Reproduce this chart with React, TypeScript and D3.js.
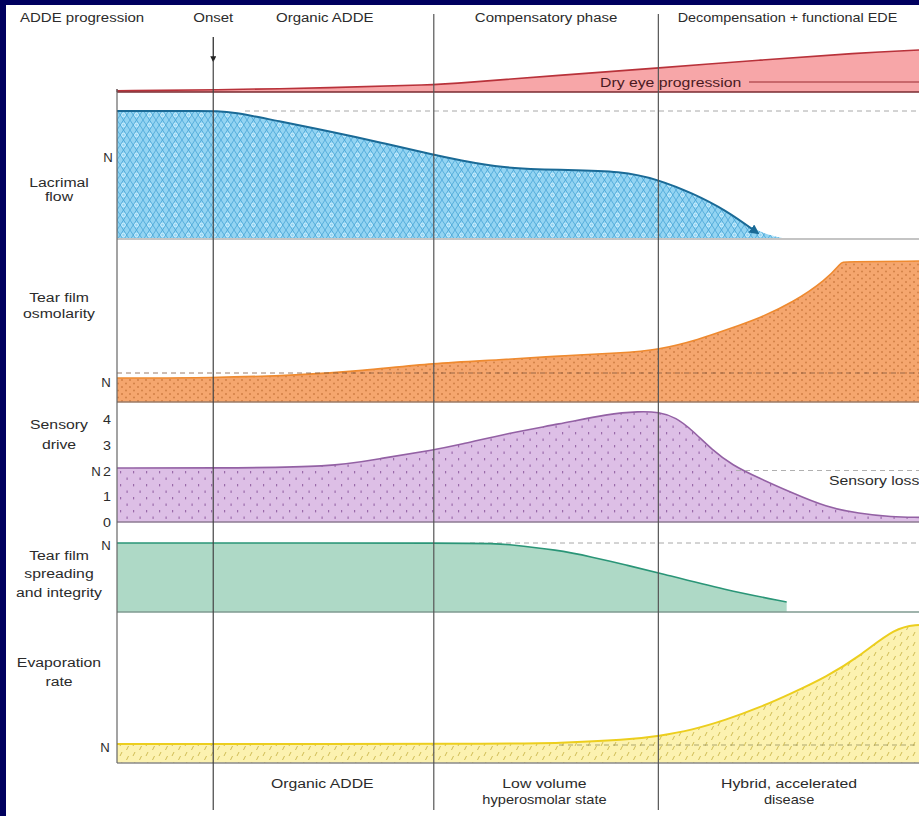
import * as d3 from "d3";

// ---- data (time in % of disease course, values per panel scale) ----
const PHASE_T = [12, 39.5, 67.5];

const TOP_LABELS = ["Onset", "Organic ADDE", "Compensatory phase", "Decompensation + functional EDE"];
const TOP_LABEL_T = [12, 25.9, 53.5, 83.6];
const BOTTOM_LABELS = [["Organic ADDE"], ["Low volume", "hyperosmolar state"], ["Hybrid, accelerated", "disease"]];
const BOTTOM_LABEL_T = [25.6, 53.3, 83.8];

const ROW_LABELS = [["Lacrimal", "flow"], ["Tear film", "osmolarity"], ["Sensory", "drive"], ["Tear film", "spreading", "and integrity"], ["Evaporation", "rate"]];

const DRY_T = [0, 12, 26.9, 39.5, 42.6, 55.1, 67.6, 80, 92.5, 100];
const DRY_V = [0.03, 0.05, 0.1, 0.17, 0.21, 0.4, 0.57, 0.76, 0.93, 1.0];

const LAC_T = [0, 12, 12, 14.5, 20, 26.9, 33.2, 39.5, 42.6, 48, 55.1, 63, 67.6, 71.7, 75.9, 79.7];
const LAC_V = [1, 1, 1, 0.992, 0.921, 0.835, 0.748, 0.654, 0.614, 0.551, 0.535, 0.528, 0.457, 0.354, 0.22, 0.047];
const LAC_TAIL = [82.9, 0];

const OSM_T = [0, 12, 22.8, 30.3, 39.5, 47.8, 55.1, 62.7, 67.5, 72.7, 75.9, 80.2, 84.2, 88.4, 90.4, 90.4, 100];
const OSM_V = [0.83, 0.83, 0.93, 1.07, 1.34, 1.45, 1.59, 1.69, 1.79, 2.17, 2.48, 2.9, 3.42, 4.2, 4.83, 4.83, 4.86];

const SENS_T = [0, 12, 26.9, 33.2, 39.5, 42.6, 48.9, 55.1, 61.3, 65.1, 67.6, 69.7, 71.7, 74.2, 76.7, 80, 84.2, 88.4, 92.5, 96.6, 100];
const SENS_V = [2.1, 2.1, 2.12, 2.49, 2.8, 2.99, 3.46, 3.8, 4.2, 4.3, 4.27, 4.06, 3.57, 2.8, 2.21, 1.71, 1.13, 0.58, 0.33, 0.19, 0.18];
const SENS_TICKS = [0, 1, 2, 3, 4];

const SPR_T = [0, 46.8, 48, 55.1, 59.2, 63.5, 67.6, 75.9, 83.5];
const SPR_V = [1, 1, 0.986, 0.899, 0.797, 0.681, 0.565, 0.319, 0.145];

const EVP_T = [0, 47.8, 55.1, 63.5, 67.6, 71.7, 75.9, 80, 84.2, 88.4, 92.5, 97.1, 100];
const EVP_V = [1.06, 1.06, 1.11, 1.28, 1.5, 1.83, 2.39, 3.06, 3.89, 4.78, 5.89, 7.55, 7.67];

const zip = (t: number[], v: number[]) => t.map((d, i) => [d, v[i]] as [number, number]);

const W = 919;
const H = 816;
const L = 117;
const R = 919;
const FONT = "'Liberation Sans', Arial, sans-serif";
const INK = "#2b2b2b";

const x = d3.scaleLinear().domain([0, 100]).range([L, R]);
const yDry = d3.scaleLinear().domain([0, 1]).range([92, 50]);
const yLac = d3.scaleLinear().domain([0, 1]).range([238, 111]);
const yOsm = d3.scaleLinear().domain([0, 1]).range([402, 373]);
const ySen = d3.scaleLinear().domain([0, 4]).range([522, 419]);
const ySpr = d3.scaleLinear().domain([0, 1]).range([612, 543]);
const yEvp = d3.scaleLinear().domain([0, 1]).range([763, 745]);

function shapes(y: d3.ScaleLinear<number, number>) {
  const area = d3.area<[number, number]>().x((d) => x(d[0])).y0(y(0)).y1((d) => y(d[1])).curve(d3.curveBasis);
  const line = d3.line<[number, number]>().x((d) => x(d[0])).y((d) => y(d[1])).curve(d3.curveBasis);
  return { area, line };
}

function T({ x, y, children, size = 13.5, anchor = "middle", sx = 1.17, fill = INK }: any) {
  return (
    <text transform={`translate(${x},${y}) scale(${sx},1)`} fontSize={size} textAnchor={anchor} fill={fill} fontFamily={FONT}>
      {children}
    </text>
  );
}

export default function App() {
  const dry = shapes(yDry);
  const lac = shapes(yLac);
  const osm = shapes(yOsm);
  const sen = shapes(ySen);
  const spr = shapes(ySpr);
  const evp = shapes(yEvp);

  const lacLine = zip(LAC_T, LAC_V);
  const lacArea = [...lacLine, LAC_TAIL as [number, number]];
  const dryData = zip(DRY_T, DRY_V);
  const osmData = zip(OSM_T, OSM_V);
  const senData = zip(SENS_T, SENS_V);
  const sprData = zip(SPR_T, SPR_V);
  const evpData = zip(EVP_T, EVP_V);

  const rowLabelY = [[187, 201], [302, 318], [429, 449], [560, 578, 597], [667, 686]];
  const dash = "5 4";

  return (
    <svg width={W} height={H} style={{ position: "absolute", left: 0, top: 0, display: "block" }}>
      <defs>
        <pattern id="pBlue" width="13" height="10" patternUnits="userSpaceOnUse">
          <path d="M0,10 L6.5,0 L13,10 M0,0 L6.5,10 L13,0" stroke="#3f9fd2" strokeWidth="0.9" fill="none" opacity="0.8" />
          <circle cx="6.5" cy="5" r="1.8" fill="none" stroke="#d8f2ff" strokeWidth="0.8" />
        </pattern>
        <pattern id="pOrange" width="8" height="7" patternUnits="userSpaceOnUse">
          <circle cx="2" cy="2" r="1" fill="#c8763c" opacity="0.8" />
          <circle cx="6" cy="5.5" r="1" fill="#c8763c" opacity="0.8" />
        </pattern>
        <pattern id="pPurple" width="13" height="13" patternUnits="userSpaceOnUse">
          <rect x="3" y="3" width="1.2" height="2.4" fill="#9a6aaa" />
          <rect x="9.5" y="9.5" width="1.2" height="2.4" fill="#9a6aaa" />
        </pattern>
        <pattern id="pYellow" width="13" height="10" patternUnits="userSpaceOnUse">
          <path d="M3,6 L5,2 M9.5,10 L11.5,6" stroke="#c9b54a" strokeWidth="0.9" />
        </pattern>
        <marker id="arrBlue" viewBox="0 0 10 10" refX="6" refY="5" markerWidth="5" markerHeight="5" orient="auto">
          <path d="M0,0 L10,5 L0,10 z" fill="#1a6a96" />
        </marker>
        <marker id="arrDown" viewBox="0 0 10 10" refX="8" refY="5" markerWidth="5" markerHeight="5" orient="auto">
          <path d="M0,0 L10,5 L0,10 z" fill="#222" />
        </marker>
      </defs>

      <rect width={W} height={H} fill="#00005f" />
      <rect x={6} y={5} width={W - 6} height={H - 5} fill="#ffffff" />

      {/* header */}
      <T x={20} y={22} size={12} sx={1.25} anchor="start">ADDE progression</T>
      {TOP_LABELS.map((s, i) => (
        <T key={s} x={x(TOP_LABEL_T[i])} y={22} size={12} sx={i === 3 ? 1.2 : 1.25}>{s}</T>
      ))}

      {/* dry eye progression wedge */}
      <path d={dry.area(dryData) || ""} fill="#f7a6a8" />
      <path d={dry.line(dryData) || ""} fill="none" stroke="#b8323a" strokeWidth={1.6} />
      <line x1={L} x2={R} y1={92} y2={92} stroke="#7a2a30" strokeWidth={1.3} />
      <line x1={L} x2={L} y1={89} y2={92} stroke="#7a2a30" strokeWidth={1} />
      <T x={600} y={87} anchor="start" fill="#4a1a22">Dry eye progression</T>
      <line x1={749} x2={R} y1={82} y2={82} stroke="#9a2a30" strokeWidth={1.2} />

      {/* lacrimal flow */}
      <line x1={245} x2={R} y1={yLac(1)} y2={yLac(1)} stroke="#a8a8a8" strokeDasharray={dash} />
      <path d={lac.area(lacArea) || ""} fill="#93d4f2" />
      <path d={lac.area(lacArea) || ""} fill="url(#pBlue)" />
      <path d={lac.line(lacLine) || ""} fill="none" stroke="#1a6a96" strokeWidth={2} markerEnd="url(#arrBlue)" />
      <line x1={L} x2={R} y1={239} y2={239} stroke="#8a8a8a" strokeWidth={1.2} />

      {/* osmolarity */}
      <path d={osm.area(osmData) || ""} fill="#f5a66e" />
      <path d={osm.area(osmData) || ""} fill="url(#pOrange)" />
      <path d={osm.line(osmData) || ""} fill="none" stroke="#ee8a30" strokeWidth={1.6} />
      <line x1={L} x2={R} y1={yOsm(1)} y2={yOsm(1)} stroke="#7a5238" strokeDasharray={dash} opacity={0.75} />
      <line x1={L} x2={R} y1={402} y2={402} stroke="#9a7a66" strokeWidth={1.3} />

      {/* sensory drive */}
      <path d={sen.area(senData) || ""} fill="#ddbfe6" />
      <path d={sen.area(senData) || ""} fill="url(#pPurple)" />
      <path d={sen.line(senData) || ""} fill="none" stroke="#9361a4" strokeWidth={1.6} />
      <line x1={736} x2={R} y1={ySen(2)} y2={ySen(2)} stroke="#b0b0b0" strokeDasharray={dash} />
      <line x1={L} x2={R} y1={522} y2={522} stroke="#8d7a92" strokeWidth={1.3} />
      <T x={829} y={485} anchor="start">Sensory loss</T>
      {SENS_TICKS.map((t) => (
        <T key={t} x={111} y={ySen(t) + 5} anchor="end" size={13} sx={1.1}>{t}</T>
      ))}

      {/* tear film spreading */}
      <line x1={470} x2={R} y1={ySpr(1)} y2={ySpr(1)} stroke="#a8a8a8" strokeDasharray={dash} />
      <path d={spr.area(sprData) || ""} fill="#aed9c6" />
      <path d={spr.line(sprData) || ""} fill="none" stroke="#2a9577" strokeWidth={1.6} />
      <line x1={L} x2={R} y1={612} y2={612} stroke="#7f9a90" strokeWidth={1.3} />

      {/* evaporation */}
      <path d={evp.area(evpData) || ""} fill="#fcf2b0" />
      <path d={evp.area(evpData) || ""} fill="url(#pYellow)" />
      <path d={evp.line(evpData) || ""} fill="none" stroke="#ecce1e" strokeWidth={2} />
      <line x1={559} x2={R} y1={yEvp(1)} y2={yEvp(1)} stroke="#9a9460" strokeDasharray={dash} opacity={0.8} />
      <line x1={L} x2={R} y1={763} y2={763} stroke="#8a8a8a" strokeWidth={1.3} />

      {/* N markers */}
      <T x={108} y={162} size={12} sx={1.1}>N</T>
      <T x={106} y={387} size={12} sx={1.1}>N</T>
      <T x={96} y={ySen(2) + 5} size={12} sx={1.1}>N</T>
      <T x={106} y={550} size={12} sx={1.1}>N</T>
      <T x={105} y={752} size={12} sx={1.1}>N</T>

      {/* row labels */}
      {ROW_LABELS.map((lines, i) =>
        lines.map((s, j) => (
          <T key={s + j} x={59} y={rowLabelY[i][j]}>{s}</T>
        ))
      )}

      {/* frame and phase lines */}
      <line x1={L} x2={L} y1={89} y2={763} stroke="#666" strokeWidth={1.2} />
      <line x1={x(PHASE_T[0])} x2={x(PHASE_T[0])} y1={37} y2={61} stroke="#222" strokeWidth={1.2} markerEnd="url(#arrDown)" />
      <line x1={x(PHASE_T[0])} x2={x(PHASE_T[0])} y1={60} y2={810} stroke="#444" strokeWidth={1.2} />
      {PHASE_T.slice(1).map((t) => (
        <line key={t} x1={x(t)} x2={x(t)} y1={14} y2={810} stroke="#555" strokeWidth={1.2} />
      ))}

      {/* bottom labels */}
      {BOTTOM_LABELS.map((lines, i) =>
        lines.map((s, j) => (
          <T key={s} x={x(BOTTOM_LABEL_T[i])} y={788 + j * 16} size={j === 0 ? 13.5 : 12.5}>{s}</T>
        ))
      )}
    </svg>
  );
}
